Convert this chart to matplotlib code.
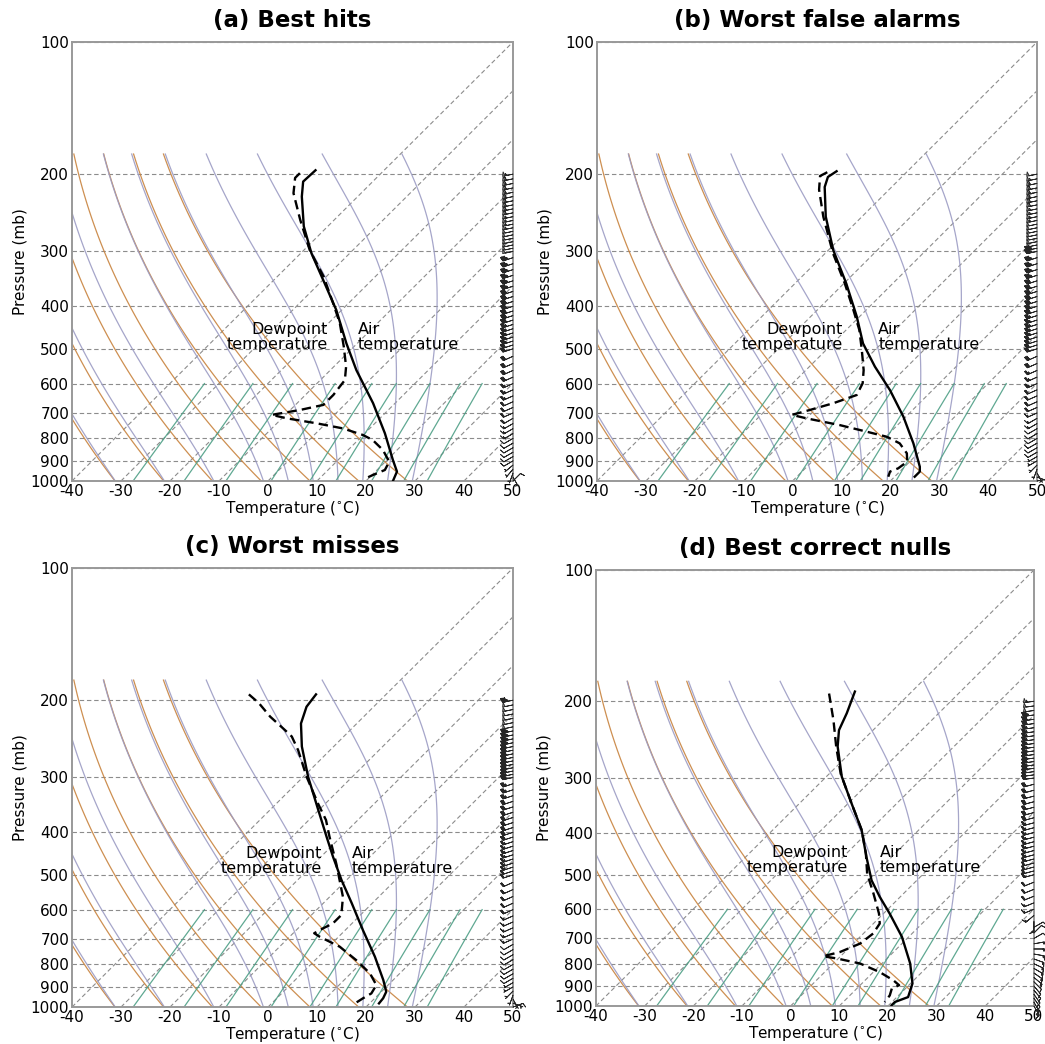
import numpy as np
import matplotlib
matplotlib.use('Agg')
import matplotlib.pyplot as plt
from matplotlib.transforms import blended_transform_factory

plt.rcParams['axes.unicode_minus'] = False

# Sounding profiles: pressure (mb) and temperature (degC)
a_temp_p = [196, 208, 225, 263, 303, 355, 408, 486, 559, 665, 779, 896, 952, 1000]
a_temp_t = [-54.0, -54.2, -51.4, -44.9, -37.8, -28.9, -21.1, -12.2, -4.7, 5.5, 14.1, 21.2, 24.4, 25.5]
a_dwpt_p = [199, 204, 221, 254, 298, 342, 394, 437, 494, 549, 589, 637, 671, 689, 707,
            720, 739, 759, 786, 807, 850, 904, 944, 969, 986]
a_dwpt_t = [-56.6, -56.6, -53.8, -47.0, -38.8, -30.6, -23.1, -17.7, -12.1, -7.5, -5.0, -4.3, -4.3, -8.0, -12.8,
            -9.0, -1.9, 4.5, 10.0, 13.0, 17.1, 20.8, 21.6, 20.2, 19.4]

b_temp_p = [197, 203, 214, 250, 298, 355, 422, 486, 549, 621, 714, 821, 928, 952, 978]
b_temp_t = [-54.5, -55.1, -53.7, -47.4, -39.0, -29.5, -20.6, -13.8, -6.6, 1.3, 9.5, 17.0, 23.1, 24.1, 24.1]
b_dwpt_p = [198, 202, 217, 250, 303, 355, 408, 453, 503, 559, 599, 637, 665, 689, 707,
            720, 746, 772, 793, 821, 865, 904, 936, 952, 978]
b_dwpt_t = [-56.2, -56.9, -54.3, -47.9, -38.4, -29.8, -22.6, -17.3, -12.7, -8.2, -5.7, -4.5, -7.6, -11.0, -13.7,
            -10.0, -1.8, 5.0, 10.2, 14.2, 17.7, 19.5, 19.0, 18.0, 18.7]

c_temp_p = [194, 207, 226, 255, 299, 356, 409, 455, 514, 580, 668, 768, 868, 923, 955, 981]
c_temp_t = [-54.3, -53.7, -51.4, -46.5, -39.0, -30.1, -23.0, -17.5, -11.0, -4.2, 3.6, 11.5, 18.0, 21.0, 21.7, 21.9]
c_dwpt_p = [194, 203, 218, 234, 242, 260, 299, 344, 375, 409, 471, 514, 561, 617, 645,
            662, 679, 692, 729, 782, 838, 891, 931, 955, 981]
c_dwpt_t = [-68.0, -64.2, -59.1, -53.3, -50.6, -46.5, -39.3, -31.5, -26.5, -22.4, -15.5, -11.4, -7.3, -3.9, -3.9,
            -4.9, -5.7, -3.8, 2.3, 8.4, 13.9, 17.6, 18.3, 17.6, 17.0]

d_temp_p = [190, 213, 233, 254, 298, 343, 395, 455, 515, 562, 614, 694, 799, 888, 954, 979, 996]
d_temp_t = [-51.7, -48.9, -47.0, -43.9, -36.8, -29.3, -21.7, -15.2, -9.3, -4.2, 1.3, 8.6, 15.8, 20.4, 22.3, 20.6, 20.6]
d_dwpt_p = [192, 221, 254, 293, 343, 395, 447, 497, 552, 614, 647, 682, 719, 752, 769,
            778, 799, 836, 873, 896, 912, 946, 979]
d_dwpt_t = [-56.6, -50.2, -44.2, -37.7, -29.3, -21.7, -16.0, -11.6, -6.2, -0.9, 1.3, 2.0, 1.4, -1.0, -3.6,
            -0.3, 5.5, 11.3, 15.8, 18.0, 17.2, 18.2, 18.5]

# Wind barbs: pressure levels (mb), speed (kt), direction (deg)
wind_p = [200, 205, 210, 215, 220, 225, 230, 235, 240, 245, 250, 255, 260, 265, 270, 275, 280, 285, 290, 295,
          300, 310, 320, 330, 340, 350, 360, 370, 380, 390, 400, 410, 420, 430, 440, 450, 460, 470, 480, 490,
          500, 520, 540, 560, 580, 600, 620, 640, 660, 680, 700, 720, 740, 760, 780, 800, 820, 840, 860, 880,
          900, 920, 940, 960, 980, 1000]

a_spd = [55, 58, 60, 62, 62, 62, 60, 60, 58, 58, 56, 55, 55, 54, 52, 52, 50, 50, 50, 48, 48,
         46, 46, 45, 45, 44, 44, 42, 42, 40, 40, 40, 38, 38, 36, 36, 35, 35, 34, 32, 32,
         30, 30, 28, 28, 26, 25, 24, 22, 20, 20, 18, 16, 15, 14, 12, 12, 10, 10, 8, 8,
         6, 6, 5, 5, 12]
a_dir = [258] * 21 + [252] * 20 + [246] * 10 + [240] * 10 + [230, 220, 200, 150, 45]

b_spd = [52, 55, 58, 60, 60, 60, 58, 58, 56, 55, 55, 54, 52, 52, 50, 50, 50, 48, 48, 46, 46,
         45, 45, 44, 44, 42, 42, 40, 40, 40, 38, 38, 36, 36, 35, 35, 34, 32, 32, 30, 30,
         28, 28, 26, 25, 24, 22, 20, 20, 18, 16, 15, 14, 12, 12, 10, 10, 8, 8, 6, 6,
         5, 5, 5, 8, 12]
b_dir = [258] * 21 + [252] * 20 + [246] * 10 + [240] * 10 + [225, 200, 150, 110, 80]

c_spd = [45, 48, 50, 50, 50, 48, 48, 46, 45, 45, 44, 42, 42, 40, 40, 40, 38, 38, 36, 36, 35,
         35, 34, 34, 32, 32, 30, 30, 30, 28, 28, 28, 26, 26, 25, 25, 25, 24, 24, 22, 22,
         22, 20, 20, 18, 18, 16, 16, 15, 14, 14, 12, 12, 10, 10, 10, 8, 8, 8, 6, 6,
         6, 5, 5, 5, 8]
c_dir = [258] * 21 + [252] * 20 + [246] * 10 + [240] * 10 + [225, 200, 150, 110, 70]

d_spd = [55, 52, 50, 45, 40, 38, 36, 35, 35, 34, 34, 34, 35, 35, 35, 34, 34, 33, 32, 32, 30,
         30, 30, 30, 28, 28, 28, 28, 26, 26, 26, 25, 25, 25, 24, 24, 24, 22, 22, 22, 20,
         20, 18, 18, 16, 15, 14, 14, 12, 12, 12, 14, 15, 15, 16, 15, 15, 14, 14, 12, 12,
         12, 10, 10, 10, 15]
d_dir = [262] * 21 + [255] * 20 + [248] * 5 + [230, 180, 60, 45, 60, 80, 90, 100, 110, 115, 120,
                                               125, 130, 135, 140, 140, 145, 145, 150, 150]

# Reference lines
isotherms = [-40, -30, -20, -10, 0, 10, 20, 30, 40]
dry_t0 = [-30, -20, -10, 0, 10, 20, 30]
moist_t0 = [-30, -20, -10, 0, 5, 10, 15, 20, 25, 30]
mix_ratios = [0.0004, 0.001, 0.002, 0.004, 0.007, 0.01, 0.016, 0.024, 0.032]
p_ticks = [100, 200, 300, 400, 500, 600, 700, 800, 900, 1000]
t_ticks = [-40, -30, -20, -10, 0, 10, 20, 30, 40, 50]
P_REF = 1018.0

SKEW = 90.0


def skewed(t, p):
    return np.asarray(t, dtype=float) + SKEW * np.log10(1000.0 / np.asarray(p, dtype=float))


def moist_lapse(t0, pres):
    rd, cp, lv, eps = 287.04749, 1004.66, 2.50084e6, 0.622

    def dtdp(t, p):
        es = 6.112 * np.exp(17.67 * (t - 273.15) / (t - 29.65))
        rs = eps * es / (p - es)
        return (rd * t + lv * rs) / (cp + lv * lv * rs * eps / (rd * t * t)) / p

    t = np.asarray(t0, dtype=float) + 273.15
    out = [t.copy()]
    for p1, p2 in zip(pres[:-1], pres[1:]):
        h = p2 - p1
        k1 = dtdp(t, p1)
        k2 = dtdp(t + h / 2 * k1, p1 + h / 2)
        k3 = dtdp(t + h / 2 * k2, p1 + h / 2)
        k4 = dtdp(t + h * k3, p2)
        t = t + h / 6 * (k1 + 2 * k2 + 2 * k3 + k4)
        out.append(t.copy())
    return np.array(out) - 273.15


def dewpoint_from_mixing(w, p):
    e = p * w / (0.622 + w)
    x = np.log(e / 6.112)
    return 243.5 * x / (17.67 - x)


def skewt_panel(ax, title, temp_p, temp_t, dwpt_p, dwpt_t, spd, drc, dew_x, air_x, lab_y):
    ax.set_yscale('log')
    ax.set_ylim(1000, 100)
    ax.set_xlim(-40, 50)

    grid_kw = dict(color='0.55', ls='--', lw=0.8, dashes=(4, 2.5), zorder=1)
    for p in p_ticks:
        ax.plot([-40, 50], [p, p], **grid_kw)
    for t in isotherms:
        ax.plot(skewed([t, t], [1000, 100]), [1000, 100], **grid_kw)

    pres = np.linspace(P_REF, 180, 120)
    for t0 in dry_t0:
        t = (t0 + 273.15) * (pres / P_REF) ** 0.2857 - 273.15
        ax.plot(skewed(t, pres), pres, color='#c8833e', lw=0.9, alpha=0.9, zorder=2)
    moist = moist_lapse(moist_t0, pres)
    for i in range(len(moist_t0)):
        ax.plot(skewed(moist[:, i], pres), pres, color='#9c9cc4', lw=0.9, alpha=0.9, zorder=2)

    mpres = np.linspace(600, 1000, 20)
    for w in mix_ratios:
        ax.plot(skewed(dewpoint_from_mixing(w, mpres), mpres), mpres,
                color='#4e9f86', lw=0.9, alpha=0.9, zorder=2)

    ax.plot(skewed(temp_t, temp_p), temp_p, color='black', lw=1.7, zorder=5)
    ax.plot(skewed(dwpt_t, dwpt_p), dwpt_p, color='black', lw=1.7, ls='--', dashes=(4, 2.2), zorder=5)

    d = np.deg2rad(drc)
    u = -np.asarray(spd) * np.sin(d)
    v = -np.asarray(spd) * np.cos(d)
    trans = blended_transform_factory(ax.transAxes, ax.transData)
    ax.barbs(np.full(len(wind_p), 1.0), wind_p, u, v, transform=trans, clip_on=False,
             length=3.9, lw=0.6, barbcolor='0.15', flagcolor='0.55', zorder=6)

    ax.text(dew_x, lab_y, 'Dewpoint\ntemperature', transform=ax.transAxes, ha='right', va='center',
            fontsize=11.5, linespacing=1.0, multialignment='right', zorder=7)
    ax.text(air_x, lab_y, 'Air\ntemperature', transform=ax.transAxes, ha='left', va='center',
            fontsize=11.5, linespacing=1.0, multialignment='left', zorder=7)

    ax.set_yticks(p_ticks)
    ax.set_yticklabels([str(p) for p in p_ticks])
    ax.yaxis.set_minor_locator(matplotlib.ticker.NullLocator())
    ax.set_xticks(t_ticks)
    ax.tick_params(length=0, pad=2, labelsize=11)
    ax.set_xlabel('Temperature ($^{\\circ}$C)', fontsize=11, labelpad=0)
    ax.set_ylabel('Pressure (mb)', fontsize=11, labelpad=2)
    ax.set_title(title, fontsize=16.5, fontweight='bold', pad=11)
    for s in ax.spines.values():
        s.set_color('0.6')
        s.set_linewidth(1.4)


fig = plt.figure(figsize=(10.45, 10.44), dpi=100)
ax_a = fig.add_axes([0.0689, 0.5393, 0.4220, 0.4205])
ax_b = fig.add_axes([0.5713, 0.5393, 0.4211, 0.4205])
ax_c = fig.add_axes([0.0689, 0.0354, 0.4220, 0.4205])
ax_d = fig.add_axes([0.5703, 0.0364, 0.4191, 0.4176])

skewt_panel(ax_a, '(a) Best hits', a_temp_p, a_temp_t, a_dwpt_p, a_dwpt_t, a_spd, a_dir, 0.58, 0.648, 0.328)
skewt_panel(ax_b, '(b) Worst false alarms', b_temp_p, b_temp_t, b_dwpt_p, b_dwpt_t, b_spd, b_dir, 0.559, 0.639, 0.328)
skewt_panel(ax_c, '(c) Worst misses', c_temp_p, c_temp_t, c_dwpt_p, c_dwpt_t, c_spd, c_dir, 0.566, 0.635, 0.333)
skewt_panel(ax_d, '(d) Best correct nulls', d_temp_p, d_temp_t, d_dwpt_p, d_dwpt_t, d_spd, d_dir, 0.575, 0.648, 0.335)

fig.savefig('out.png', dpi=100)
